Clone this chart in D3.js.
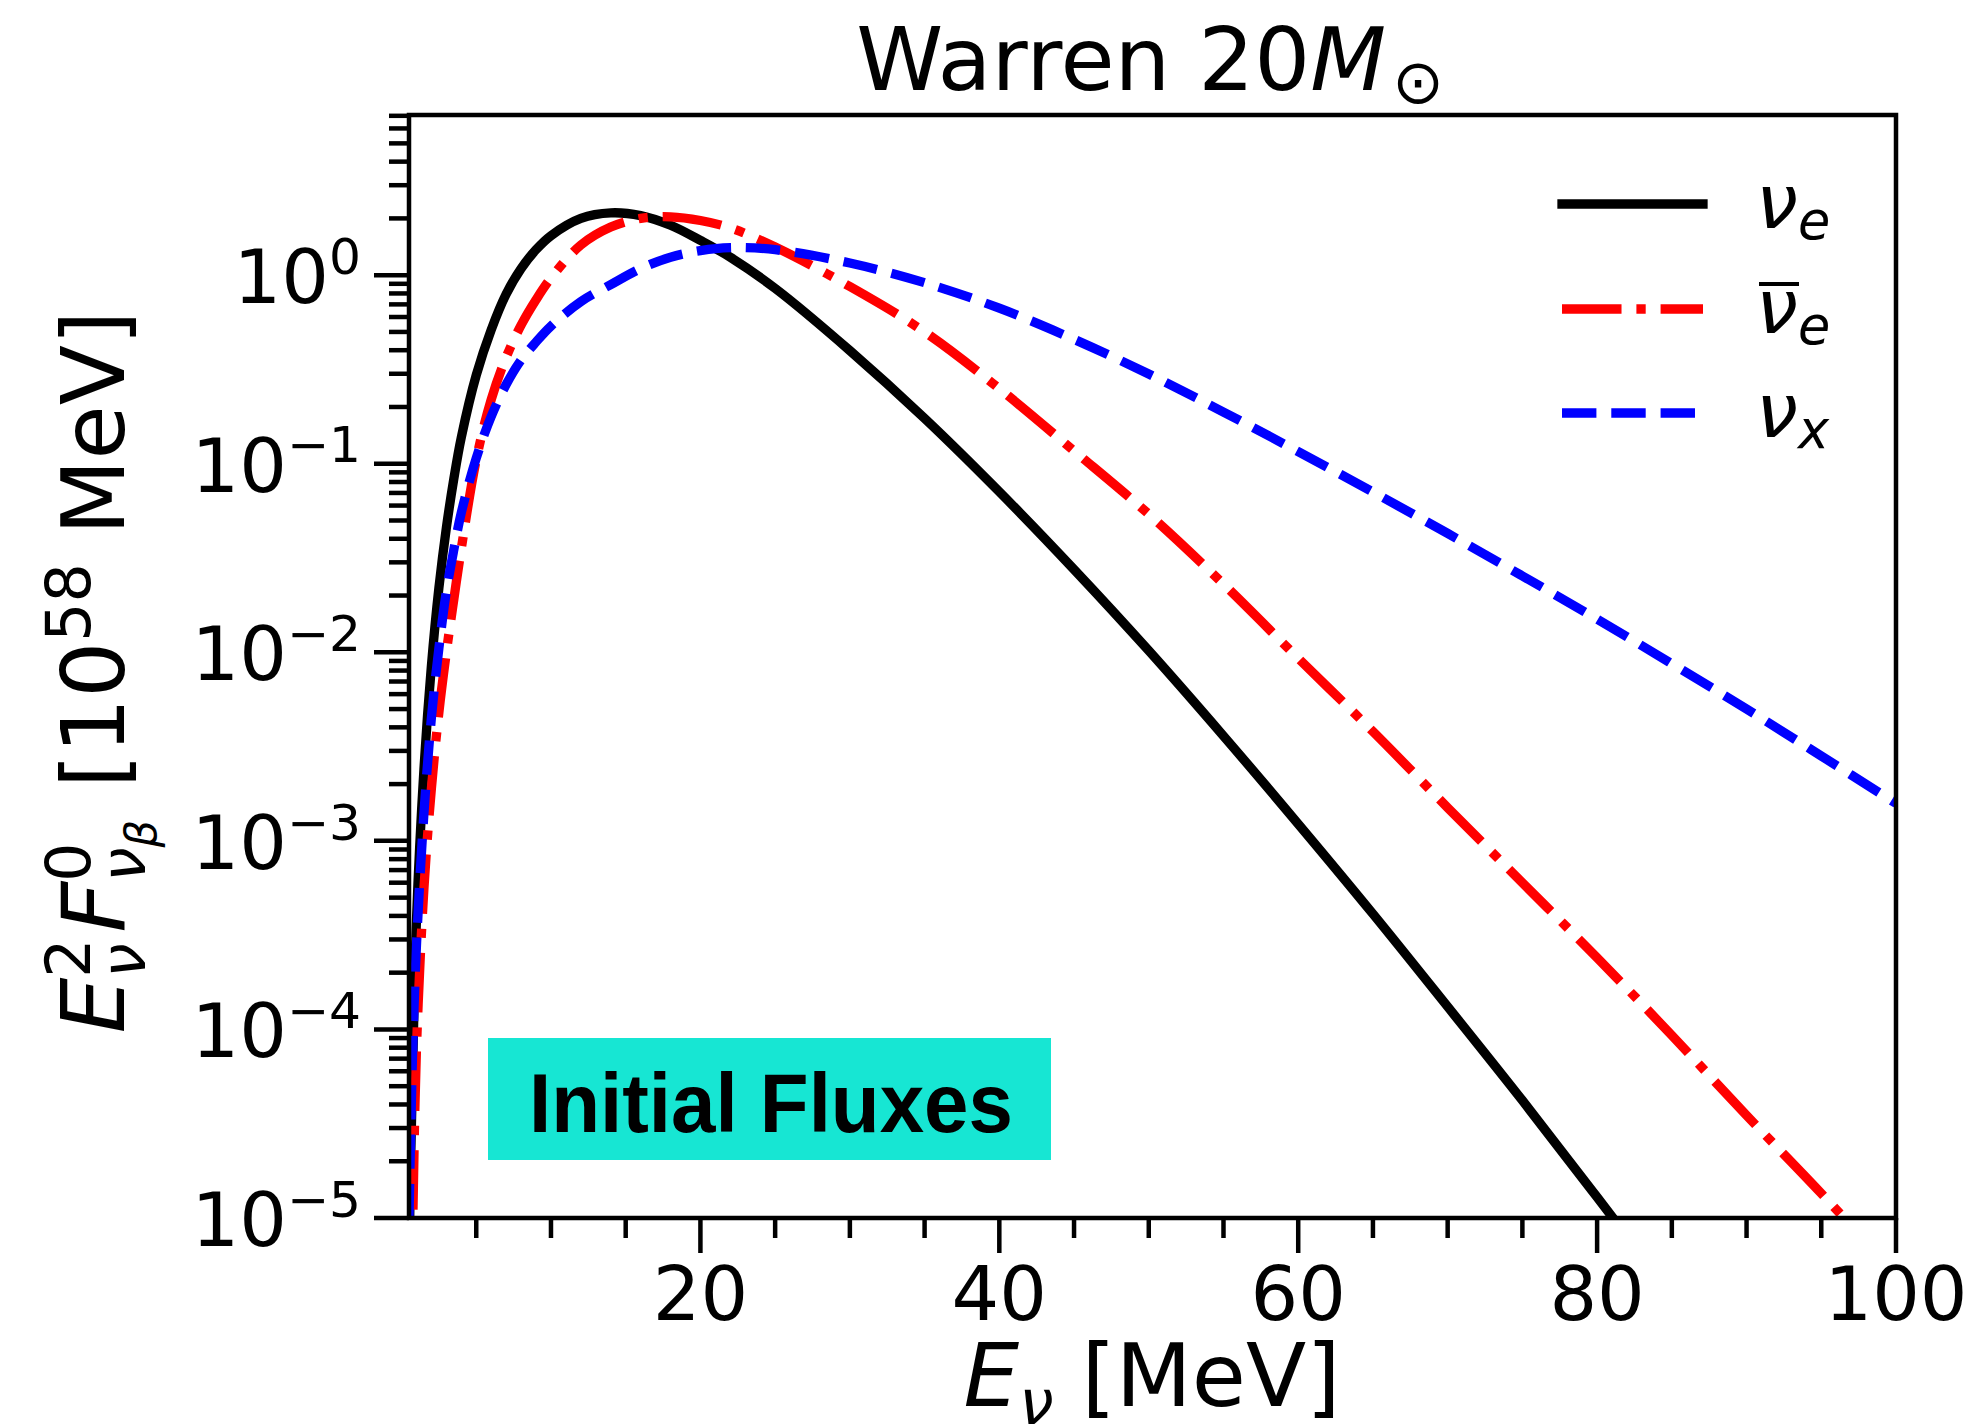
<!DOCTYPE html>
<html><head><meta charset="utf-8">
<script src="https://cdn.jsdelivr.net/npm/d3@7"></script>
<style>
html,body{margin:0;padding:0;background:#fff;}
text{font-family:"DejaVu Sans";white-space:pre;fill:#000;}
</style></head><body>
<svg id="chart" width="1981" height="1424"></svg>
<script>
// ---- data ----
const energies = [0.5, 0.6, 0.75, 1, 1.5, 2, 2.5, 3, 3.5, 4, 5, 6, 7, 8, 9, 10, 12, 14, 16, 18, 20, 22, 25, 30, 35, 40, 45, 50, 55, 60, 65, 70, 75, 80, 85, 90, 95, 100];
const nuE    = [5.6e-6, 1.8e-5, 6.5e-5, 3.8e-4, 2.4e-3, 8.5e-3, 0.0219, 0.0457, 0.0832, 0.138, 0.295, 0.513, 0.794, 1.084, 1.365, 1.62, 2.0, 2.14, 2.07, 1.84, 1.53, 1.245, 0.851, 0.398, 0.174, 0.071, 0.0275, 0.0102, 3.6e-3, 1.23e-3, 4.1e-4, 1.32e-4, 4.2e-5, 1.29e-5, 3.9e-6, 1.2e-6, 3.6e-7, 1.1e-7];
const nuEbar = [1e-6, 2.5e-6, 9.5e-6, 7.9e-5, 5.6e-4, 1.9e-3, 4.8e-3, 0.0100, 0.0191, 0.0355, 0.105, 0.219, 0.367, 0.543, 0.741, 0.966, 1.445, 1.80, 2.0, 2.04, 1.95, 1.78, 1.41, 0.87, 0.50, 0.25, 0.117, 0.054, 0.023, 9.3e-3, 3.8e-3, 1.5e-3, 6.0e-4, 2.4e-4, 9.3e-5, 3.5e-5, 1.35e-5, 5.0e-6];
const nuX    = [1e-5, 2.5e-5, 7.9e-5, 2.8e-4, 1.4e-3, 4.5e-3, 0.0105, 0.021, 0.035, 0.055, 0.107, 0.178, 0.263, 0.355, 0.442, 0.537, 0.724, 0.891, 1.084, 1.245, 1.35, 1.40, 1.365, 1.16, 0.912, 0.668, 0.457, 0.299, 0.188, 0.116, 0.0708, 0.0427, 0.0254, 0.0150, 8.7e-3, 5.0e-3, 2.82e-3, 1.58e-3];
const xMajorTicks = [20, 40, 60, 80, 100];
const xMinorTicks = [5, 10, 15, 25, 30, 35, 45, 50, 55, 65, 70, 75, 85, 90, 95];
const yMajorExps = [-5, -4, -3, -2, -1, 0];

// ---- layout ----
const svg = d3.select("#chart");
const L = 409, R = 1896, T = 115, B = 1218;
const x = d3.scaleLinear().domain([0.5, 100]).range([L, R]);
const y = d3.scaleLog().domain([1e-5, 7.07]).range([B, T]);
const LW = 9.3;
const AX = 4.5;

function mathText(parent, pieces, px, py, anchor, fs) {
  const g = parent.append("g").attr("transform", `translate(${px},${py})`);
  const inner = g.append("g");
  let cx = 0, stackStart = 0, prevEnd = 0;
  for (const p of pieces) {
    const size = fs * (p.scale || 1);
    const mode = p.mode || "next";
    let start = mode === "stack" ? stackStart : mode === "follow" ? prevEnd : cx;
    start += (p.dx || 0);
    const t = inner.append("text").attr("x", start).attr("y", (p.shift || 0) * fs)
      .attr("font-size", size).attr("font-style", p.italic ? "italic" : "normal").text(p.t);
    const w = t.node().getComputedTextLength();
    const end = start + w;
    if (mode === "next") { stackStart = start; cx = end; } else { cx = Math.max(cx, end); }
    prevEnd = end;
  }
  const off = anchor === "middle" ? -cx / 2 : anchor === "end" ? -cx : 0;
  inner.attr("transform", `translate(${off},0)`);
  return { g, width: cx, off };
}

// ---- curves ----
svg.append("clipPath").attr("id", "clip").append("rect")
  .attr("x", L).attr("y", T).attr("width", R - L).attr("height", B - T);

const dashDot = `${6.4*LW},${1.6*LW},${1*LW},${1.6*LW}`;
const dashed = `${3.7*LW},${1.6*LW}`;
const series = [
  { vals: nuE, color: "#000000", dash: null, cap: "square" },
  { vals: nuEbar, color: "#ff0000", dash: dashDot, cap: "butt" },
  { vals: nuX, color: "#0000ff", dash: dashed, cap: "butt" }
];
const line = d3.line().x(d => x(d[0])).y(d => y(d[1])).curve(d3.curveCatmullRom.alpha(0.5));
const cg = svg.append("g").attr("clip-path", "url(#clip)");
series.forEach(s => {
  const pts = energies.map((e, i) => [e, s.vals[i]]);
  cg.append("path").attr("d", line(pts)).attr("fill", "none")
    .attr("stroke", s.color).attr("stroke-width", LW)
    .attr("stroke-linejoin", "round").attr("stroke-linecap", s.cap)
    .attr("stroke-dasharray", s.dash);
});

// ---- ticks ----
const tk = svg.append("g").attr("stroke", "#000").attr("stroke-width", AX);
xMajorTicks.forEach(v => tk.append("line").attr("x1", x(v)).attr("x2", x(v)).attr("y1", B).attr("y2", B + 35));
xMinorTicks.forEach(v => tk.append("line").attr("x1", x(v)).attr("x2", x(v)).attr("y1", B).attr("y2", B + 20));
yMajorExps.forEach(e => {
  const yy = y(Math.pow(10, e));
  tk.append("line").attr("x1", L - 35).attr("x2", L).attr("y1", yy).attr("y2", yy);
});
for (let e = -5; e <= 0; e++) {
  for (let k = 2; k <= 9; k++) {
    const v = k * Math.pow(10, e);
    if (v > y.domain()[1] + 1e-9) continue;
    const yy = y(v);
    tk.append("line").attr("x1", L - 20).attr("x2", L).attr("y1", yy).attr("y2", yy);
  }
}

// tick labels
const TF = 75;
xMajorTicks.forEach(v => {
  svg.append("text").attr("x", x(v)).attr("y", B + 102).attr("text-anchor", "middle")
    .attr("font-size", TF).text(String(v));
});
yMajorExps.forEach(e => {
  const yy = y(Math.pow(10, e));
  const ex = e < 0 ? "\u2212" + Math.abs(e) : String(e);
  mathText(svg, [{ t: "10" }, { t: ex, scale: 0.67, shift: -0.39 }], 361, yy + 28, "end", TF);
});

// spines
svg.append("rect").attr("x", L).attr("y", T).attr("width", R - L).attr("height", B - T)
  .attr("fill", "none").attr("stroke", "#000").attr("stroke-width", AX);

// ---- title ----
mathText(svg, [{ t: "Warren 20" }, { t: "M", italic: true }, { t: "\u2299", scale: 0.7, shift: 0.15, dx: 6 }], 1150, 90, "middle", 88);

// ---- x label ----
mathText(svg, [{ t: "E", italic: true }, { t: "\u03bd", italic: true, scale: 0.7, shift: 0.2 }, { t: " [MeV]" }], 1152, 1406, "middle", 88);

// ---- y label ----
const yl = svg.append("g").attr("transform", "translate(124,672) rotate(-90)");
mathText(yl, [
  { t: "E", italic: true },
  { t: "2", scale: 0.7, shift: -0.39 },
  { t: "\u03bd", italic: true, scale: 0.7, shift: 0.24, mode: "stack" },
  { t: "F", italic: true, dx: 6 },
  { t: "0", scale: 0.7, shift: -0.39 },
  { t: "\u03bd", italic: true, scale: 0.7, shift: 0.24, mode: "stack" },
  { t: "\u03b2", italic: true, scale: 0.49, shift: 0.36, mode: "follow" },
  { t: " [10", dx: 4 },
  { t: "58", scale: 0.7, shift: -0.39 },
  { t: " MeV]" }
], 0, 0, "middle", 88);

// ---- legend ----
const legendRows = [
  { y: 204, color: "#000000", dash: null, cap: "square", sub: "e", bar: false },
  { y: 309, color: "#ff0000", dash: dashDot, cap: "butt", sub: "e", bar: true },
  { y: 413, color: "#0000ff", dash: dashed, cap: "butt", sub: "x", bar: false }
];
legendRows.forEach(r => {
  svg.append("line").attr("x1", 1562).attr("x2", 1703).attr("y1", r.y).attr("y2", r.y)
    .attr("stroke", r.color).attr("stroke-width", LW).attr("stroke-dasharray", r.dash)
    .attr("stroke-linecap", r.cap);
  mathText(svg, [{ t: "\u03bd", italic: true }, { t: r.sub, italic: true, scale: 0.7, shift: 0.15 }], 1756, r.y + 24, "start", 75);
  if (r.bar) {
    svg.append("line").attr("x1", 1759).attr("x2", 1799).attr("y1", r.y + 24 - 49).attr("y2", r.y + 24 - 49)
      .attr("stroke", "#000").attr("stroke-width", 4);
  }
});

// ---- annotation box ----
svg.append("rect").attr("x", 488).attr("y", 1038).attr("width", 563).attr("height", 122).attr("fill", "#17e6d3");
svg.append("text").attr("x", 771).attr("y", 1132).attr("text-anchor", "middle")
  .attr("font-weight", "bold").attr("font-size", 84)
  .attr("textLength", 484).attr("lengthAdjust", "spacingAndGlyphs")
  .style("font-family", "'Liberation Sans'").text("Initial Fluxes");
</script>
</body></html>
